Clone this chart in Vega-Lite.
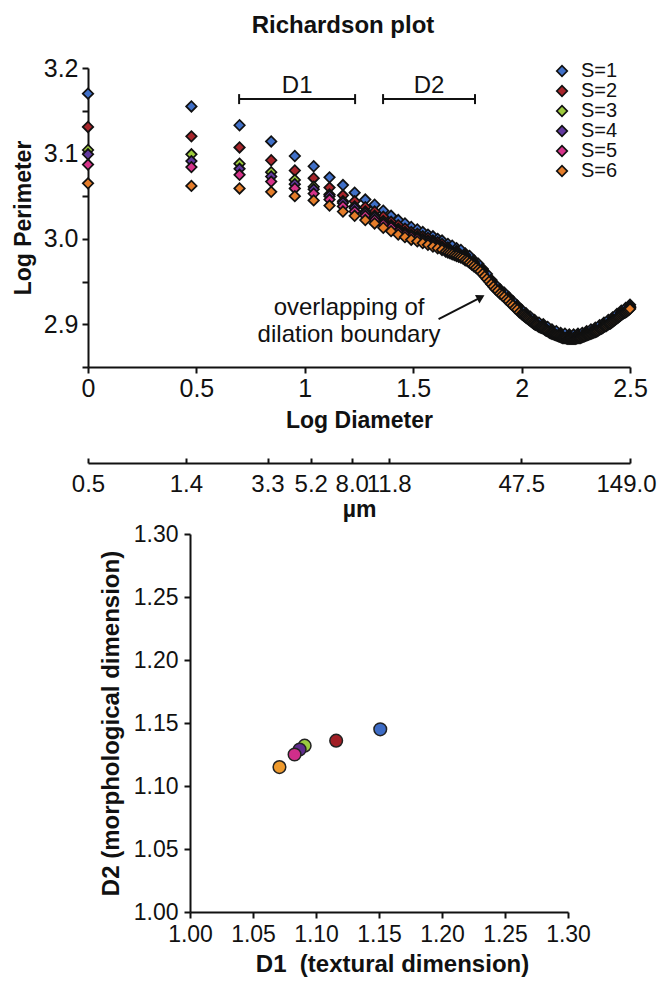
{
"$schema":"https://vega.github.io/schema/vega-lite/v6.json",
"width":542,"height":844,
"autosize":{"type":"none"},
"padding":{"left":88,"top":68,"right":28,"bottom":73},
"background":"white",
"config":{
 "view":{"stroke":null},
 "font":"Liberation Sans",
 "axis":{"grid":false,"domainColor":"#111","domainWidth":2,"tickColor":"#111","tickWidth":2,"tickSize":6,"labelColor":"#111","titleColor":"#111","labelFont":"Liberation Sans","titleFont":"Liberation Sans","labelFontSize":25,"titleFontSize":23,"titleFontWeight":"bold","labelFlush":false,"labelOverlap":false},
 "legend":{"labelFont":"Liberation Sans"}
},
"title":{"text":"Richardson plot","font":"Liberation Sans","fontSize":24,"fontWeight":"bold","color":"#111","anchor":"middle","frame":"group","dx":-16,"offset":18},
"resolve":{"scale":{"x":"independent","y":"independent","color":"independent"}},
"layer":[
{"layer":[
 {"data":{"values":[
{"s":1,"x":0,"y":3.170},{"s":1,"x":0.477,"y":3.155},{"s":1,"x":0.699,"y":3.133},{"s":1,"x":0.845,"y":3.114},{"s":1,"x":0.954,"y":3.097},{"s":1,"x":1.041,"y":3.085},{"s":1,"x":1.114,"y":3.072},{"s":1,"x":1.176,"y":3.063},{"s":1,"x":1.230,"y":3.054},{"s":1,"x":1.279,"y":3.046},{"s":1,"x":1.322,"y":3.040},{"s":1,"x":1.362,"y":3.033},{"s":1,"x":1.398,"y":3.027},{"s":1,"x":1.431,"y":3.022},{"s":1,"x":1.462,"y":3.018},{"s":1,"x":1.491,"y":3.014},{"s":1,"x":1.519,"y":3.011},{"s":1,"x":1.544,"y":3.008},{"s":1,"x":1.568,"y":3.005},{"s":1,"x":1.591,"y":3.003},{"s":1,"x":1.613,"y":3.000},{"s":1,"x":1.633,"y":2.998},
{"s":1,"x":1.66,"y":2.994},{"s":1,"x":1.68,"y":2.992},{"s":1,"x":1.70,"y":2.989},{"s":1,"x":1.72,"y":2.987},{"s":1,"x":1.74,"y":2.983},{"s":1,"x":1.76,"y":2.980},{"s":1,"x":1.78,"y":2.975},{"s":1,"x":1.80,"y":2.971},{"s":1,"x":1.82,"y":2.965},{"s":1,"x":1.84,"y":2.959},{"s":1,"x":1.86,"y":2.952},{"s":1,"x":1.88,"y":2.946},{"s":1,"x":1.90,"y":2.941},{"s":1,"x":1.92,"y":2.937},{"s":1,"x":1.94,"y":2.932},{"s":1,"x":1.96,"y":2.927},{"s":1,"x":1.98,"y":2.922},{"s":1,"x":2.00,"y":2.917},{"s":1,"x":2.02,"y":2.913},{"s":1,"x":2.04,"y":2.909},{"s":1,"x":2.06,"y":2.905},{"s":1,"x":2.08,"y":2.902},{"s":1,"x":2.10,"y":2.900},{"s":1,"x":2.12,"y":2.897},{"s":1,"x":2.14,"y":2.894},{"s":1,"x":2.16,"y":2.892},{"s":1,"x":2.18,"y":2.890},{"s":1,"x":2.20,"y":2.889},{"s":1,"x":2.22,"y":2.888},{"s":1,"x":2.24,"y":2.888},{"s":1,"x":2.26,"y":2.889},{"s":1,"x":2.28,"y":2.890},{"s":1,"x":2.30,"y":2.892},{"s":1,"x":2.32,"y":2.894},{"s":1,"x":2.34,"y":2.896},{"s":1,"x":2.36,"y":2.899},{"s":1,"x":2.38,"y":2.902},{"s":1,"x":2.40,"y":2.905},{"s":1,"x":2.42,"y":2.908},{"s":1,"x":2.44,"y":2.912},{"s":1,"x":2.46,"y":2.916},{"s":1,"x":2.48,"y":2.919},{"s":1,"x":2.50,"y":2.923},
{"s":2,"x":0,"y":3.131},{"s":2,"x":0.477,"y":3.120},{"s":2,"x":0.699,"y":3.107},{"s":2,"x":0.845,"y":3.092},{"s":2,"x":0.954,"y":3.080},{"s":2,"x":1.041,"y":3.071},{"s":2,"x":1.114,"y":3.060},{"s":2,"x":1.176,"y":3.051},{"s":2,"x":1.230,"y":3.044},{"s":2,"x":1.279,"y":3.037},{"s":2,"x":1.322,"y":3.032},{"s":2,"x":1.362,"y":3.026},{"s":2,"x":1.398,"y":3.020},{"s":2,"x":1.431,"y":3.016},{"s":2,"x":1.462,"y":3.012},{"s":2,"x":1.491,"y":3.008},{"s":2,"x":1.519,"y":3.006},{"s":2,"x":1.544,"y":3.003},{"s":2,"x":1.568,"y":3.001},{"s":2,"x":1.591,"y":2.998},{"s":2,"x":1.613,"y":2.996},{"s":2,"x":1.633,"y":2.994},
{"s":2,"x":1.66,"y":2.990},{"s":2,"x":1.70,"y":2.986},{"s":2,"x":1.74,"y":2.981},{"s":2,"x":1.78,"y":2.973},{"s":2,"x":1.82,"y":2.964},{"s":2,"x":1.86,"y":2.951},{"s":2,"x":1.90,"y":2.940},{"s":2,"x":1.94,"y":2.931},{"s":2,"x":1.98,"y":2.921},{"s":2,"x":2.02,"y":2.911},{"s":2,"x":2.06,"y":2.903},{"s":2,"x":2.10,"y":2.898},{"s":2,"x":2.14,"y":2.892},{"s":2,"x":2.18,"y":2.888},{"s":2,"x":2.22,"y":2.886},{"s":2,"x":2.26,"y":2.887},{"s":2,"x":2.30,"y":2.890},{"s":2,"x":2.34,"y":2.894},{"s":2,"x":2.38,"y":2.900},{"s":2,"x":2.42,"y":2.906},{"s":2,"x":2.46,"y":2.914},{"s":2,"x":2.50,"y":2.921},
{"s":3,"x":0,"y":3.104},{"s":3,"x":0.477,"y":3.099},{"s":3,"x":0.699,"y":3.088},{"s":3,"x":0.845,"y":3.078},{"s":3,"x":0.954,"y":3.069},{"s":3,"x":1.041,"y":3.061},{"s":3,"x":1.114,"y":3.052},{"s":3,"x":1.176,"y":3.044},{"s":3,"x":1.230,"y":3.038},{"s":3,"x":1.279,"y":3.032},{"s":3,"x":1.322,"y":3.027},{"s":3,"x":1.362,"y":3.021},{"s":3,"x":1.398,"y":3.016},{"s":3,"x":1.431,"y":3.012},{"s":3,"x":1.462,"y":3.008},{"s":3,"x":1.491,"y":3.005},{"s":3,"x":1.519,"y":3.003},{"s":3,"x":1.544,"y":3.000},{"s":3,"x":1.568,"y":2.998},{"s":3,"x":1.591,"y":2.996},{"s":3,"x":1.613,"y":2.993},{"s":3,"x":1.633,"y":2.991},
{"s":3,"x":1.66,"y":2.988},{"s":3,"x":1.70,"y":2.984},{"s":3,"x":1.74,"y":2.979},{"s":3,"x":1.78,"y":2.971},{"s":3,"x":1.82,"y":2.962},{"s":3,"x":1.86,"y":2.950},{"s":3,"x":1.90,"y":2.939},{"s":3,"x":1.94,"y":2.930},{"s":3,"x":1.98,"y":2.920},{"s":3,"x":2.02,"y":2.910},{"s":3,"x":2.06,"y":2.902},{"s":3,"x":2.10,"y":2.897},{"s":3,"x":2.14,"y":2.891},{"s":3,"x":2.18,"y":2.887},{"s":3,"x":2.22,"y":2.885},{"s":3,"x":2.26,"y":2.886},{"s":3,"x":2.30,"y":2.889},{"s":3,"x":2.34,"y":2.893},{"s":3,"x":2.38,"y":2.899},{"s":3,"x":2.42,"y":2.905},{"s":3,"x":2.46,"y":2.913},{"s":3,"x":2.50,"y":2.920},
{"s":4,"x":0,"y":3.099},{"s":4,"x":0.477,"y":3.091},{"s":4,"x":0.699,"y":3.082},{"s":4,"x":0.845,"y":3.073},{"s":4,"x":0.954,"y":3.064},{"s":4,"x":1.041,"y":3.058},{"s":4,"x":1.114,"y":3.050},{"s":4,"x":1.176,"y":3.042},{"s":4,"x":1.230,"y":3.036},{"s":4,"x":1.279,"y":3.030},{"s":4,"x":1.322,"y":3.025},{"s":4,"x":1.362,"y":3.019},{"s":4,"x":1.398,"y":3.015},{"s":4,"x":1.431,"y":3.010},{"s":4,"x":1.462,"y":3.007},{"s":4,"x":1.491,"y":3.004},{"s":4,"x":1.519,"y":3.001},{"s":4,"x":1.544,"y":2.999},{"s":4,"x":1.568,"y":2.997},{"s":4,"x":1.591,"y":2.995},{"s":4,"x":1.613,"y":2.992},{"s":4,"x":1.633,"y":2.990},
{"s":4,"x":1.66,"y":2.987},{"s":4,"x":1.70,"y":2.983},{"s":4,"x":1.74,"y":2.978},{"s":4,"x":1.78,"y":2.971},{"s":4,"x":1.82,"y":2.962},{"s":4,"x":1.86,"y":2.949},{"s":4,"x":1.90,"y":2.938},{"s":4,"x":1.94,"y":2.929},{"s":4,"x":1.98,"y":2.919},{"s":4,"x":2.02,"y":2.910},{"s":4,"x":2.06,"y":2.902},{"s":4,"x":2.10,"y":2.897},{"s":4,"x":2.14,"y":2.891},{"s":4,"x":2.18,"y":2.887},{"s":4,"x":2.22,"y":2.885},{"s":4,"x":2.26,"y":2.886},{"s":4,"x":2.30,"y":2.889},{"s":4,"x":2.34,"y":2.893},{"s":4,"x":2.38,"y":2.899},{"s":4,"x":2.42,"y":2.905},{"s":4,"x":2.46,"y":2.913},{"s":4,"x":2.50,"y":2.920},
{"s":5,"x":0,"y":3.087},{"s":5,"x":0.477,"y":3.084},{"s":5,"x":0.699,"y":3.075},{"s":5,"x":0.845,"y":3.067},{"s":5,"x":0.954,"y":3.059},{"s":5,"x":1.041,"y":3.053},{"s":5,"x":1.114,"y":3.046},{"s":5,"x":1.176,"y":3.038},{"s":5,"x":1.230,"y":3.032},{"s":5,"x":1.279,"y":3.027},{"s":5,"x":1.322,"y":3.022},{"s":5,"x":1.362,"y":3.017},{"s":5,"x":1.398,"y":3.013},{"s":5,"x":1.431,"y":3.008},{"s":5,"x":1.462,"y":3.005},{"s":5,"x":1.491,"y":3.002},{"s":5,"x":1.519,"y":3.000},{"s":5,"x":1.544,"y":2.997},{"s":5,"x":1.568,"y":2.995},{"s":5,"x":1.591,"y":2.993},{"s":5,"x":1.613,"y":2.991},{"s":5,"x":1.633,"y":2.989},
{"s":5,"x":1.66,"y":2.986},{"s":5,"x":1.70,"y":2.982},{"s":5,"x":1.74,"y":2.977},{"s":5,"x":1.78,"y":2.970},{"s":5,"x":1.82,"y":2.960},{"s":5,"x":1.86,"y":2.948},{"s":5,"x":1.90,"y":2.937},{"s":5,"x":1.94,"y":2.928},{"s":5,"x":1.98,"y":2.918},{"s":5,"x":2.02,"y":2.909},{"s":5,"x":2.06,"y":2.901},{"s":5,"x":2.10,"y":2.896},{"s":5,"x":2.14,"y":2.890},{"s":5,"x":2.18,"y":2.886},{"s":5,"x":2.22,"y":2.884},{"s":5,"x":2.26,"y":2.885},{"s":5,"x":2.30,"y":2.888},{"s":5,"x":2.34,"y":2.892},{"s":5,"x":2.38,"y":2.898},{"s":5,"x":2.42,"y":2.904},{"s":5,"x":2.46,"y":2.912},{"s":5,"x":2.50,"y":2.919},
{"s":6,"x":0,"y":3.065},{"s":6,"x":0.477,"y":3.062},{"s":6,"x":0.699,"y":3.059},{"s":6,"x":0.845,"y":3.055},{"s":6,"x":0.954,"y":3.050},{"s":6,"x":1.041,"y":3.045},{"s":6,"x":1.114,"y":3.039},{"s":6,"x":1.176,"y":3.032},{"s":6,"x":1.230,"y":3.027},{"s":6,"x":1.279,"y":3.022},{"s":6,"x":1.322,"y":3.018},{"s":6,"x":1.362,"y":3.013},{"s":6,"x":1.398,"y":3.009},{"s":6,"x":1.431,"y":3.005},{"s":6,"x":1.462,"y":3.002},{"s":6,"x":1.491,"y":2.999},{"s":6,"x":1.519,"y":2.997},{"s":6,"x":1.544,"y":2.995},{"s":6,"x":1.568,"y":2.993},{"s":6,"x":1.591,"y":2.991},{"s":6,"x":1.613,"y":2.989},{"s":6,"x":1.633,"y":2.987},
{"s":6,"x":1.65,"y":2.985},{"s":6,"x":1.66,"y":2.984},{"s":6,"x":1.67,"y":2.983},{"s":6,"x":1.68,"y":2.982},{"s":6,"x":1.69,"y":2.981},{"s":6,"x":1.70,"y":2.980},{"s":6,"x":1.71,"y":2.979},{"s":6,"x":1.72,"y":2.978},{"s":6,"x":1.73,"y":2.977},{"s":6,"x":1.74,"y":2.975},{"s":6,"x":1.75,"y":2.974},{"s":6,"x":1.76,"y":2.972},{"s":6,"x":1.77,"y":2.970},{"s":6,"x":1.78,"y":2.968},{"s":6,"x":1.79,"y":2.966},{"s":6,"x":1.80,"y":2.964},{"s":6,"x":1.81,"y":2.962},{"s":6,"x":1.82,"y":2.959},{"s":6,"x":1.83,"y":2.956},{"s":6,"x":1.84,"y":2.953},{"s":6,"x":1.85,"y":2.950},{"s":6,"x":1.86,"y":2.947},{"s":6,"x":1.87,"y":2.944},{"s":6,"x":1.88,"y":2.941},{"s":6,"x":1.89,"y":2.939},{"s":6,"x":1.90,"y":2.936},{"s":6,"x":1.91,"y":2.934},{"s":6,"x":1.92,"y":2.932},{"s":6,"x":1.93,"y":2.929},{"s":6,"x":1.94,"y":2.927},{"s":6,"x":1.95,"y":2.924},{"s":6,"x":1.96,"y":2.922},{"s":6,"x":1.97,"y":2.919},{"s":6,"x":1.98,"y":2.917},{"s":6,"x":1.99,"y":2.914},
{"s":6,"x":2.000,"y":2.912},{"s":6,"x":2.005,"y":2.911},{"s":6,"x":2.010,"y":2.910},{"s":6,"x":2.015,"y":2.909},{"s":6,"x":2.020,"y":2.908},{"s":6,"x":2.025,"y":2.907},{"s":6,"x":2.030,"y":2.906},{"s":6,"x":2.035,"y":2.905},{"s":6,"x":2.040,"y":2.904},{"s":6,"x":2.045,"y":2.903},{"s":6,"x":2.050,"y":2.902},{"s":6,"x":2.055,"y":2.901},{"s":6,"x":2.060,"y":2.900},{"s":6,"x":2.065,"y":2.8995},{"s":6,"x":2.070,"y":2.899},{"s":6,"x":2.075,"y":2.898},{"s":6,"x":2.080,"y":2.897},{"s":6,"x":2.085,"y":2.8965},{"s":6,"x":2.090,"y":2.896},{"s":6,"x":2.095,"y":2.8955},{"s":6,"x":2.100,"y":2.895},{"s":6,"x":2.105,"y":2.894},{"s":6,"x":2.110,"y":2.893},{"s":6,"x":2.115,"y":2.8925},{"s":6,"x":2.120,"y":2.892},{"s":6,"x":2.125,"y":2.891},{"s":6,"x":2.130,"y":2.890},{"s":6,"x":2.135,"y":2.8895},{"s":6,"x":2.140,"y":2.889},{"s":6,"x":2.145,"y":2.8885},{"s":6,"x":2.150,"y":2.888},{"s":6,"x":2.155,"y":2.8875},{"s":6,"x":2.160,"y":2.887},{"s":6,"x":2.165,"y":2.8865},{"s":6,"x":2.170,"y":2.886},{"s":6,"x":2.175,"y":2.8855},{"s":6,"x":2.180,"y":2.885},{"s":6,"x":2.185,"y":2.8845},{"s":6,"x":2.190,"y":2.884},{"s":6,"x":2.195,"y":2.884},{"s":6,"x":2.200,"y":2.884},{"s":6,"x":2.205,"y":2.8835},{"s":6,"x":2.210,"y":2.883},{"s":6,"x":2.215,"y":2.883},{"s":6,"x":2.220,"y":2.883},{"s":6,"x":2.225,"y":2.883},{"s":6,"x":2.230,"y":2.883},{"s":6,"x":2.235,"y":2.883},{"s":6,"x":2.240,"y":2.883},{"s":6,"x":2.245,"y":2.883},{"s":6,"x":2.250,"y":2.883},{"s":6,"x":2.255,"y":2.8835},{"s":6,"x":2.260,"y":2.884},{"s":6,"x":2.265,"y":2.884},{"s":6,"x":2.270,"y":2.884},{"s":6,"x":2.275,"y":2.8845},{"s":6,"x":2.280,"y":2.885},{"s":6,"x":2.285,"y":2.8855},{"s":6,"x":2.290,"y":2.886},{"s":6,"x":2.295,"y":2.8865},{"s":6,"x":2.300,"y":2.887},{"s":6,"x":2.305,"y":2.8875},{"s":6,"x":2.310,"y":2.888},{"s":6,"x":2.315,"y":2.8885},{"s":6,"x":2.320,"y":2.889},{"s":6,"x":2.325,"y":2.8895},{"s":6,"x":2.330,"y":2.890},{"s":6,"x":2.335,"y":2.8905},{"s":6,"x":2.340,"y":2.891},{"s":6,"x":2.345,"y":2.8915},{"s":6,"x":2.350,"y":2.892},{"s":6,"x":2.355,"y":2.893},{"s":6,"x":2.360,"y":2.894},{"s":6,"x":2.365,"y":2.8945},{"s":6,"x":2.370,"y":2.895},{"s":6,"x":2.375,"y":2.896},{"s":6,"x":2.380,"y":2.897},{"s":6,"x":2.385,"y":2.8975},{"s":6,"x":2.390,"y":2.898},{"s":6,"x":2.395,"y":2.899},{"s":6,"x":2.400,"y":2.900},{"s":6,"x":2.405,"y":2.9005},{"s":6,"x":2.410,"y":2.901},{"s":6,"x":2.415,"y":2.902},{"s":6,"x":2.420,"y":2.903},{"s":6,"x":2.425,"y":2.904},{"s":6,"x":2.430,"y":2.905},{"s":6,"x":2.435,"y":2.906},{"s":6,"x":2.440,"y":2.907},{"s":6,"x":2.445,"y":2.908},{"s":6,"x":2.450,"y":2.909},{"s":6,"x":2.455,"y":2.910},{"s":6,"x":2.460,"y":2.911},{"s":6,"x":2.465,"y":2.912},{"s":6,"x":2.470,"y":2.913},{"s":6,"x":2.475,"y":2.9135},{"s":6,"x":2.480,"y":2.914},{"s":6,"x":2.485,"y":2.915},{"s":6,"x":2.490,"y":2.916},{"s":6,"x":2.495,"y":2.917},{"s":6,"x":2.500,"y":2.918}
 ]},
 "mark":{"type":"point","shape":"diamond","filled":true,"size":110,"stroke":"#111","strokeWidth":1.7,"opacity":1},
 "encoding":{
  "x":{"field":"x","type":"quantitative","title":"Log Diameter","scale":{"domain":[0,2.5],"range":[0,542],"nice":false,"zero":false},"axis":{"orient":"bottom","offset":-545,"values":[0,0.5,1,1.5,2,2.5],"format":"~g","labelPadding":3,"titlePadding":8}},
  "y":{"field":"y","type":"quantitative","title":"Log Perimeter","scale":{"domain":[2.85,3.2],"range":[299,0],"nice":false,"zero":false},"axis":{"orient":"left","values":[2.85,2.9,2.95,3.0,3.05,3.1,3.15,3.2],"labelExpr":"abs(datum.value*10-round(datum.value*10))<0.001 ? format(datum.value,'.1f') : ''","labelPadding":4,"titlePadding":8}},
  "color":{"field":"s","type":"nominal","scale":{"domain":[1,2,3,4,5,6],"range":["#4070C8","#A8252B","#9DCB3C","#6339A0","#D6338A","#E57D2A"]},"legend":{"orient":"none","legendX":464,"legendY":-7,"title":null,"symbolType":"diamond","symbolSize":110,"symbolStrokeColor":"#111","symbolStrokeWidth":1.7,"labelFontSize":20,"labelColor":"#111","labelOffset":9,"rowPadding":0,"padding":0,"labelExpr":"'S=' + datum.label"}}
 }
 },
 {"data":{"values":[{"b":"D1","x1":0.697,"x2":1.232,"xm":0.965,"y":3.1636},{"b":"D2","x1":1.361,"x2":1.785,"xm":1.573,"y":3.1636}]},
  "layer":[
   {"mark":{"type":"rule","color":"#111","strokeWidth":2},"encoding":{"x":{"field":"x1","type":"quantitative","title":"Log Diameter"},"x2":{"field":"x2"},"y":{"field":"y","type":"quantitative","title":"Log Perimeter"}}},
   {"mark":{"type":"tick","orient":"vertical","color":"#111","thickness":2,"size":10,"opacity":1},"encoding":{"x":{"field":"x1","type":"quantitative","title":"Log Diameter"},"y":{"field":"y","type":"quantitative","title":"Log Perimeter"}}},
   {"mark":{"type":"tick","orient":"vertical","color":"#111","thickness":2,"size":10,"opacity":1},"encoding":{"x":{"field":"x2","type":"quantitative","title":"Log Diameter"},"y":{"field":"y","type":"quantitative","title":"Log Perimeter"}}},
   {"mark":{"type":"text","fontSize":24,"color":"#111","align":"center","baseline":"alphabetic","dy":-6},"encoding":{"x":{"field":"xm","type":"quantitative","title":"Log Diameter"},"y":{"field":"y","type":"quantitative","title":"Log Perimeter"},"text":{"field":"b"}}}
  ]},
 {"data":{"values":[{"t":["overlapping of","dilation boundary"],"x":1.204,"y":2.933}]},
  "mark":{"type":"text","fontSize":24,"lineHeight":27,"align":"center","baseline":"top","color":"#111"},
  "encoding":{"x":{"field":"x","type":"quantitative","title":"Log Diameter"},"y":{"field":"y","type":"quantitative","title":"Log Perimeter"},"text":{"field":"t"}}},
 {"data":{"values":[{"x":1.617,"y":2.906,"xe":1.812,"ye":2.9316}]},
  "layer":[
   {"mark":{"type":"rule","color":"#111","strokeWidth":2},"encoding":{"x":{"field":"x","type":"quantitative","title":"Log Diameter"},"y":{"field":"y","type":"quantitative","title":"Log Perimeter"},"x2":{"field":"xe"},"y2":{"field":"ye"}}},
   {"mark":{"type":"point","shape":"triangle-right","filled":true,"color":"#111","size":90,"angle":332,"opacity":1},"encoding":{"x":{"field":"xe","type":"quantitative","title":"Log Diameter"},"y":{"field":"ye","type":"quantitative","title":"Log Perimeter"}}}
  ]}
]},
{"data":{"values":[{"um":0.5},{"um":1.4},{"um":3.3},{"um":5.2},{"um":8.0},{"um":11.8},{"um":47.5},{"um":149.0}]},
 "mark":{"type":"point","opacity":0},
 "encoding":{"x":{"field":"um","type":"quantitative","title":"µm","scale":{"type":"log","domain":[0.5,149],"range":[0,542],"nice":false},"axis":{"orient":"bottom","offset":-449,"values":[0.5,1.4,3.3,5.2,8,11.8,47.5,149],"format":".1f","tickSize":-5,"labelFontSize":24,"labelPadding":14,"labelOffset":{"condition":{"test":"datum.value > 100","value":-4},"value":0},"titlePadding":2}}}
},
{"data":{"values":[{"s":1,"d1":1.151,"d2":1.145},{"s":2,"d1":1.116,"d2":1.136},{"s":3,"d1":1.091,"d2":1.132},{"s":4,"d1":1.087,"d2":1.129},{"s":5,"d1":1.083,"d2":1.125},{"s":6,"d1":1.071,"d2":1.115}]},
 "mark":{"type":"circle","size":160,"stroke":"#222","strokeWidth":1.5,"opacity":1},
 "encoding":{
  "x":{"field":"d1","type":"quantitative","title":"D1\u00a0 (textural dimension)","scale":{"domain":[1,1.3],"range":[102,480],"nice":false,"zero":false},"axis":{"orient":"bottom","offset":0,"values":[1,1.05,1.1,1.15,1.2,1.25,1.3],"format":".2f","labelFontSize":23,"labelPadding":5,"titlePadding":6,"titleFontSize":24,"titleX":304}},
  "y":{"field":"d2","type":"quantitative","title":"D2 (morphological dimension)","scale":{"domain":[1,1.3],"range":[844,466],"nice":false,"zero":false},"axis":{"orient":"left","offset":-102,"values":[1,1.05,1.1,1.15,1.2,1.25,1.3],"format":".2f","labelFontSize":23,"labelPadding":6,"titlePadding":10,"titleFontSize":24}},
  "color":{"field":"s","type":"nominal","scale":{"domain":[1,2,3,4,5,6],"range":["#3D6CC6","#A11E25","#9BCB3F","#5F2C8E","#D02E8A","#EE9A2E"]},"legend":null}
 }
}
]
}
